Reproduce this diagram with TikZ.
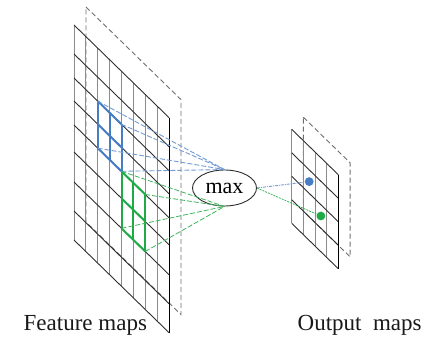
\documentclass[tikz,border=0pt]{standalone}
\usepackage{fontspec}
\setmainfont{Liberation Serif}
\usetikzlibrary{shapes.geometric}
\definecolor{vgray}{RGB}{140,140,140}
\definecolor{dgray}{RGB}{45,45,45}
\definecolor{bgray}{RGB}{110,110,110}
\definecolor{wblue}{RGB}{70,125,195}
\definecolor{lblue}{RGB}{115,155,212}
\definecolor{wgreen}{RGB}{30,170,70}
\definecolor{lgreen}{RGB}{60,180,90}
\tikzset{
  vline/.style={draw=vgray, line width=1pt},
  dline/.style={draw=dgray, line width=0.9pt},
  edgeline/.style={draw=black, line width=1pt},
  backplane/.style={draw=bgray, line width=0.9pt, dash pattern=on 5pt off 3pt},
  bwin/.style={draw=wblue, line width=2pt},
  gwin/.style={draw=wgreen, line width=2pt},
  bcon/.style={draw=lblue, line width=0.9pt, dash pattern=on 5pt off 2pt},
  gcon/.style={draw=lgreen, line width=0.8pt, dash pattern=on 5pt off 2pt},
  bcon2/.style={draw=lblue, line width=0.9pt, dash pattern=on 3pt off 1pt on 1pt off 1pt},
  gcon2/.style={draw=lgreen, line width=0.8pt, dash pattern=on 2pt off 1pt},
  maxnode/.style={ellipse, draw=dgray, line width=0.9pt, minimum width=64pt, minimum height=36pt, inner sep=0pt, font=\fontsize{22}{24}\selectfont},
  dotnode/.style={circle, inner sep=0pt, minimum size=8.8pt},
  lab/.style={inner sep=0pt, anchor=base west, text=black!90, font=\fontsize{23}{26}\selectfont}
}
\begin{document}
\begin{tikzpicture}[x=1pt,y=-1pt]
\useasboundingbox (0,0) rectangle (429,337);
% ---------- feature maps ----------
\def\FX{74}\def\FY{25}\def\FW{11.875}\def\FS{0.975}
% back plane
\draw[backplane] (86,7) -- (181,99.6) -- (181,314.6) -- (86,222) -- cycle;
% front grid verticals
\foreach \i in {0,...,7}{
  \draw[vline] ({\FX+\FW*\i},{\FY+\FS*\FW*\i}) -- ++(0,215);
}
% front grid diagonals
\foreach \o in {0,29,53,76,100,127,157,186,215}{
  \draw[dline] (\FX,{\FY+\o}) -- ++(95,{\FS*95});
}
\draw[edgeline] (169,117.6) -- (169,332.6);
% window corners
\coordinate (BTL) at (97.75,101.16);
\coordinate (BTR) at (121.5,124.31);
\coordinate (BML) at (97.75,124.16);
\coordinate (BMR) at (121.5,147.31);
\coordinate (BBL) at (97.75,148.16);
\coordinate (BBR) at (121.5,171.31);
\coordinate (GTL) at (121.5,171.31);
\coordinate (GTR) at (145.25,194.47);
\coordinate (GML) at (121.5,198.31);
\coordinate (GMR) at (145.25,221.47);
\coordinate (GBL) at (121.5,228.31);
\coordinate (GBR) at (145.25,251.47);
% blue window
\draw[bwin] (BTL) -- (BBL) (109.625,112.74) -- (109.625,159.74) (BTR) -- (BBR);
\draw[bwin] (BTL) -- (BTR) (BML) -- (BMR) (BBL) -- (BBR);
% green window
\draw[gwin] (GTL) -- (GBL) (133.375,182.89) -- (133.375,239.89) (GTR) -- (GBR);
\draw[gwin] (GTL) -- (GTR) (GML) -- (GMR) (GBL) -- (GBR);
% ---------- max ----------
\node[maxnode] (max) at (224.5,188) {max};
\foreach \c in {BTL,BTR,BBL,BBR}{ \draw[bcon] (\c) -- (max.north); }
\foreach \c in {GTL,GTR,GBL,GBR}{ \draw[gcon] (\c) -- (max.south); }
% ---------- output maps ----------
\def\OX{291.7}\def\OY{129.3}\def\OW{11.67}
\draw[backplane] (303.4,117.3) -- (350.1,162.8) -- (350.1,256.8) -- (303.4,211.3) -- cycle;
\foreach \i in {0,...,3}{
  \draw[vline] ({\OX+\OW*\i},{\OY+\FS*\OW*\i}) -- ++(0,94);
}
\foreach \r in {0,...,4}{
  \draw[dline] (\OX,{\OY+23.5*\r}) -- ++(46.68,{\FS*46.68});
}
\draw[edgeline] (338.38,174.8) -- (338.38,268.8);
\node[dotnode, fill=wblue] (bdot) at (309.2,181.6) {};
\node[dotnode, fill=wgreen] (gdot) at (320.9,216.0) {};
\draw[bcon2] (max.east) -- (bdot);
\draw[gcon2] (max.east) -- (gdot);
% ---------- labels ----------
\node[lab] (flab) at (23.5,330.7) {Feature maps};
\node[lab] (olab) at (297.5,330.7) {Output\ \ maps};
\end{tikzpicture}
\end{document}
